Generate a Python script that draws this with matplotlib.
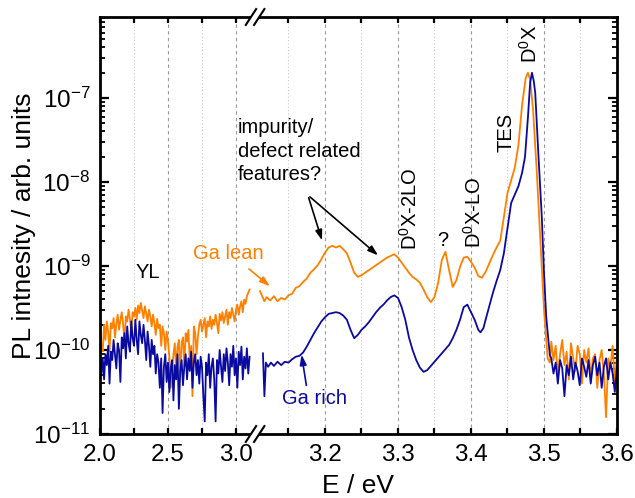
import numpy as np
import matplotlib
matplotlib.use('Agg')
import matplotlib.pyplot as plt

plt.rcParams['font.family'] = ['Liberation Sans', 'DejaVu Sans']
plt.rcParams['mathtext.fontset'] = 'custom'
plt.rcParams['mathtext.rm'] = 'Liberation Sans'
plt.rcParams['mathtext.it'] = 'Liberation Sans:italic'
plt.rcParams['mathtext.bf'] = 'Liberation Sans:bold'

# ---- data (log10 of PL intensity) ----
# low energy part, 2.00 .. 3.10 eV in 0.01 steps
e_low = np.round(np.arange(2.00, 3.1001, 0.01), 3)

lean_low = [-9.72, -9.95, -10.02, -9.70, -9.88, -9.66, -9.78, -10.02, -9.68, -9.74,
            -9.62, -9.85, -9.69, -9.58, -9.76, -9.64, -9.55, -9.70, -9.90, -9.60,
            -9.66, -9.52, -9.63, -9.78, -9.55, -9.60, -9.50, -9.64, -9.47, -9.56,
            -9.44, -9.53, -9.62, -9.48, -9.57, -9.66, -9.52, -9.60, -9.72, -9.58,
            -9.68, -9.82, -9.63, -9.74, -9.70, -9.95, -9.72, -9.80, -10.00, -9.78,
            -9.90, -10.08, -10.45, -10.25, -10.05, -9.92, -10.25, -9.96, -9.88, -10.30,
            -9.92, -9.85, -10.20, -9.80, -9.90, -9.76, -10.15, -9.95, -10.55, -9.72,
            -9.80, -10.05, -9.84, -9.70, -9.64, -9.78, -9.70, -9.62, -9.85, -9.66,
            -9.72, -9.60, -9.75, -9.64, -9.70, -9.58, -9.68, -9.80, -9.57, -9.65,
            -9.55, -9.68, -9.60, -9.52, -9.70, -9.55, -9.62, -9.50, -9.58, -9.66,
            -9.52, -9.46, -9.58, -9.48, -9.42, -9.55, -9.40, -9.45, -9.36, -9.32,
            -9.28]

rich_low = [-10.00, -10.28, -10.10, -10.35, -10.05, -10.18, -9.95, -10.40, -10.02, -10.12,
            -9.88, -10.05, -10.22, -9.92, -10.00, -10.38, -9.85, -9.98, -9.80, -10.10,
            -9.72, -9.92, -10.02, -9.66, -9.86, -9.95, -9.64, -9.88, -10.05, -9.66,
            -9.82, -9.92, -9.70, -9.88, -10.12, -9.78, -9.95, -10.20, -9.88, -10.05,
            -9.95, -10.28, -10.05, -10.15, -10.45, -10.10, -10.75, -10.20, -10.05, -10.38,
            -10.15, -10.50, -10.22, -10.12, -10.60, -10.18, -10.35, -10.05, -10.70, -10.25,
            -10.12, -10.42, -10.20, -10.05, -10.35, -10.10, -10.25, -10.02, -10.45, -10.15,
            -10.05, -10.30, -10.12, -10.40, -10.08, -10.20, -10.55, -10.85, -10.15, -10.30,
            -10.05, -10.45, -10.20, -10.10, -10.35, -10.85, -10.12, -10.28, -10.00, -10.20,
            -10.38, -10.05, -10.25, -9.98, -10.15, -10.42, -10.05, -10.20, -9.95, -10.30,
            -10.10, -10.45, -10.02, -10.18, -9.96, -10.35, -10.08, -10.22, -9.98, -10.28,
            -10.08]

# high energy part (after the axis break)
e_lean_high = [3.111, 3.114, 3.117, 3.12, 3.125, 3.13, 3.135, 3.14, 3.145, 3.15,
               3.155, 3.16, 3.165, 3.17, 3.175, 3.18, 3.185, 3.19, 3.195, 3.20,
               3.205, 3.21, 3.215, 3.22, 3.225, 3.23, 3.235, 3.24, 3.245, 3.25,
               3.255, 3.26, 3.265, 3.27, 3.275, 3.28, 3.285, 3.29, 3.295, 3.30,
               3.305, 3.31, 3.315, 3.32, 3.325, 3.33, 3.335, 3.34, 3.345, 3.35,
               3.355, 3.36, 3.365, 3.37, 3.375, 3.38, 3.385, 3.39, 3.395, 3.40,
               3.405, 3.41, 3.415, 3.42, 3.425, 3.43, 3.435, 3.44, 3.445, 3.45,
               3.455, 3.46, 3.465, 3.47, 3.475, 3.478, 3.481, 3.485, 3.49, 3.495,
               3.50, 3.505, 3.508,
               3.51, 3.513, 3.516, 3.519, 3.522, 3.525, 3.528, 3.531, 3.534, 3.537,
               3.54, 3.543, 3.546, 3.549, 3.552, 3.555, 3.558, 3.561, 3.564, 3.567,
               3.57, 3.573, 3.576, 3.579, 3.582, 3.585, 3.588, 3.591, 3.594, 3.597, 3.60]
lean_high = [-9.30, -9.36, -9.42, -9.37, -9.41, -9.36, -9.42, -9.38, -9.40, -9.35,
             -9.33, -9.26, -9.24, -9.19, -9.15, -9.08, -9.04, -8.99, -8.92, -8.84,
             -8.78, -8.76, -8.78, -8.76, -8.80, -8.85, -8.96, -9.08, -9.13, -9.11,
             -9.08, -9.05, -9.02, -8.99, -8.96, -8.93, -8.90, -8.88, -8.86, -8.90,
             -8.96, -9.02, -9.08, -9.13, -9.16, -9.20, -9.28, -9.37, -9.43, -9.37,
             -9.20, -8.93, -8.83, -9.05, -9.25, -9.17, -9.01, -8.90, -8.89, -8.95,
             -9.02, -9.12, -9.14, -9.07, -8.97, -8.87, -8.78, -8.70, -8.42, -8.13,
             -7.98, -7.83, -7.56, -7.08, -6.76, -6.70, -6.78, -7.14, -7.86, -8.69,
             -9.52, -10.10, -10.15,
             -9.90, -10.12, -9.95, -10.30, -10.05, -9.88, -10.18, -10.02, -10.35, -9.92,
             -10.10, -10.25, -9.95, -10.05, -10.40, -10.00, -10.15, -9.98, -10.32, -10.10,
             -10.05, -10.45, -10.12, -10.00, -10.28, -10.80, -10.10, -10.20, -9.95, -10.40, -10.05]

e_rich_high = [3.115, 3.117, 3.119, 3.122, 3.126, 3.13, 3.135, 3.14, 3.145, 3.15,
               3.155, 3.16, 3.165, 3.17, 3.175, 3.18, 3.185, 3.19, 3.195, 3.20,
               3.205, 3.21, 3.215, 3.22, 3.225, 3.23, 3.235, 3.24, 3.245, 3.25,
               3.255, 3.26, 3.265, 3.27, 3.275, 3.28, 3.285, 3.29, 3.295, 3.30,
               3.305, 3.31, 3.315, 3.32, 3.325, 3.33, 3.335, 3.34, 3.345, 3.35,
               3.355, 3.36, 3.365, 3.37, 3.375, 3.38, 3.385, 3.39, 3.395, 3.40,
               3.405, 3.41, 3.413, 3.417, 3.42, 3.425, 3.43, 3.435, 3.44, 3.445,
               3.45, 3.455, 3.46, 3.465, 3.47, 3.474, 3.478, 3.481, 3.4835, 3.486,
               3.488, 3.492, 3.497, 3.50, 3.503, 3.506, 3.508,
               3.51, 3.513, 3.516, 3.519, 3.522, 3.525, 3.528, 3.531, 3.534, 3.537,
               3.54, 3.543, 3.546, 3.549, 3.552, 3.555, 3.558, 3.561, 3.564, 3.567,
               3.57, 3.573, 3.576, 3.579, 3.582, 3.585, 3.588, 3.591, 3.594, 3.597, 3.60]
rich_high = [-10.04, -10.55, -10.15, -10.20, -10.15, -10.19, -10.14, -10.18, -10.14, -10.15,
             -10.11, -10.08, -10.07, -10.03, -9.96, -9.88, -9.80, -9.73, -9.66, -9.61,
             -9.57, -9.56, -9.55, -9.56, -9.59, -9.64, -9.76, -9.86, -9.82, -9.76,
             -9.72, -9.67, -9.61, -9.55, -9.50, -9.46, -9.41, -9.37, -9.35, -9.38,
             -9.49, -9.64, -9.85, -10.00, -10.12, -10.21, -10.26, -10.24, -10.19, -10.14,
             -10.09, -10.04, -9.99, -9.94, -9.86, -9.76, -9.64, -9.49, -9.46, -9.55,
             -9.64, -9.76, -9.79, -9.74, -9.64, -9.48, -9.32, -9.18, -9.05, -8.85,
             -8.55, -8.25, -8.15, -8.05, -7.89, -7.70, -7.23, -6.82, -6.70, -6.80,
             -6.94, -7.62, -8.42, -9.08, -9.60, -9.88, -10.06,
             -10.10, -10.28, -10.15, -10.40, -10.12, -10.22, -10.55, -10.18, -10.30, -10.08,
             -10.35, -10.15, -10.25, -10.42, -10.10, -10.20, -10.32, -10.12, -10.40, -10.18,
             -10.08, -10.30, -10.15, -10.45, -10.20, -10.10, -10.35, -10.15, -10.28, -10.50, -10.20]

major_ticks = [2.0, 2.5, 3.0, 3.2, 3.3, 3.4, 3.5, 3.6]
major_labels = ['2.0', '2.5', '3.0', '3.2', '3.3', '3.4', '3.5', '3.6']
minor_ticks = [2.25, 2.75, 3.15, 3.25, 3.35, 3.45, 3.55]

# broken axis: 2.0-3.1 compressed, 3.11-3.6 expanded
brk_e = [1.0, 2.0, 3.1, 3.1096, 3.6, 4.6]
brk_p = [-136.0, 0.0, 149.6, 159.0, 517.0, 1247.0]


def fwd(x):
    return np.interp(x, brk_e, brk_p)


def inv(p):
    return np.interp(p, brk_p, brk_e)


orange = '#FF8000'
navy = '#0A0AA0'

fig = plt.figure(figsize=(6.35, 4.98), dpi=100)
ax = fig.add_axes([100/635, 1-434/498, 517/635, 417/498])
ax.set_xscale('function', functions=(fwd, inv))
ax.set_yscale('log')

ax.plot(e_low, 10**np.array(lean_low), color=orange, lw=1.3)
ax.plot(e_lean_high, 10**np.array(lean_high), color=orange, lw=1.3)
ax.plot(e_low, 10**np.array(rich_low), color=navy, lw=1.3)
ax.plot(e_rich_high, 10**np.array(rich_high), color=navy, lw=1.3)

ax.set_xlim(2.0, 3.6)
ax.set_ylim(1e-11, 9.2e-7)

ax.set_xticks(major_ticks)
ax.set_xticklabels(major_labels)
ax.set_xticks(minor_ticks, minor=True)
ax.tick_params(axis='x', which='both', direction='in', top=True, length=4.5, width=1.6,
               labelsize=17.5, pad=7)
ax.tick_params(axis='y', which='major', direction='in', right=True, length=6.5, width=1.6,
               labelsize=17.5, pad=7)
ax.tick_params(axis='y', which='minor', direction='in', right=True, length=3.6, width=1.3)
ax.grid(axis='x', which='major', ls=(0, (3, 3)), color='#9a9a9a', lw=0.8)
ax.grid(axis='x', which='minor', ls=(0, (1, 2)), color='#c8c8c8', lw=0.8)
for s in ax.spines.values():
    s.set_linewidth(2.0)

ax.set_xlabel('E / eV', fontsize=19, labelpad=6)
ax.set_ylabel('PL intnesity / arb. units', fontsize=19, labelpad=-2)

# axis break marks
for y0 in (0, 1):
    ax.plot([0.292, 0.308], [y0, y0], transform=ax.transAxes, color='white',
            lw=4, clip_on=False, zorder=5, solid_capstyle='butt')
    ax.plot([0.282, 0.302], [y0 - 0.019, y0 + 0.019], transform=ax.transAxes,
            color='k', lw=1.5, clip_on=False, zorder=6)
    ax.plot([0.298, 0.318], [y0 - 0.019, y0 + 0.019], transform=ax.transAxes,
            color='k', lw=1.5, clip_on=False, zorder=6)

fs = 14.5
ax.text(0.093, 0.388, 'YL', transform=ax.transAxes, fontsize=fs, ha='center', va='center')
ax.text(0.248, 0.434, 'Ga lean', transform=ax.transAxes, fontsize=fs, color=orange,
        ha='center', va='center')
ax.text(0.414, 0.086, 'Ga rich', transform=ax.transAxes, fontsize=fs, color=navy,
        ha='center', va='center')
ax.text(0.267, 0.757, 'impurity/\ndefect related\nfeatures?', transform=ax.transAxes,
        fontsize=fs, ha='left', va='top', linespacing=1.3)

ax.text(0.599, 0.441, r'D$^0$X-2LO', transform=ax.transAxes, fontsize=fs, rotation=90,
        ha='center', va='bottom')
ax.text(0.663, 0.465, '?', transform=ax.transAxes, fontsize=fs, ha='center', va='center')
ax.text(0.724, 0.446, r'D$^0$X-LO', transform=ax.transAxes, fontsize=fs, rotation=90,
        ha='center', va='bottom')
ax.text(0.785, 0.676, 'TES', transform=ax.transAxes, fontsize=fs, rotation=90,
        ha='center', va='bottom')
ax.text(0.832, 0.890, r'D$^0$X', transform=ax.transAxes, fontsize=fs, rotation=90,
        ha='center', va='bottom')

arw = '-|>,head_length=0.6,head_width=0.2'
ax.annotate('', xy=(0.333, 0.350), xytext=(0.284, 0.400), xycoords='axes fraction',
            arrowprops=dict(arrowstyle=arw, color=orange, lw=1.2))
ax.annotate('', xy=(0.389, 0.197), xytext=(0.400, 0.110), xycoords='axes fraction',
            arrowprops=dict(arrowstyle=arw, color=navy, lw=1.2))
ax.annotate('', xy=(0.431, 0.458), xytext=(0.402, 0.573), xycoords='axes fraction',
            arrowprops=dict(arrowstyle=arw, color='k', lw=1.2))
ax.annotate('', xy=(0.542, 0.424), xytext=(0.402, 0.573), xycoords='axes fraction',
            arrowprops=dict(arrowstyle=arw, color='k', lw=1.2))

fig.savefig('out.png', dpi=100)
